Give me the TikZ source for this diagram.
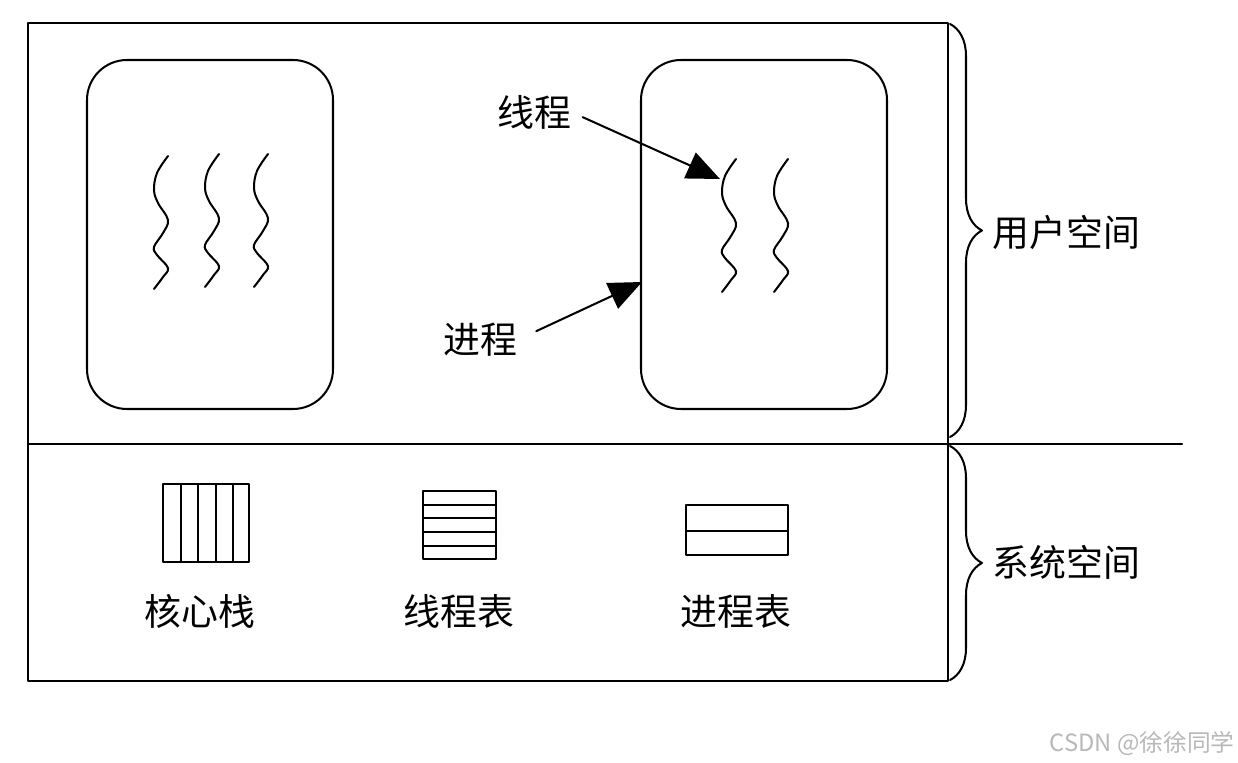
\documentclass[tikz,border=0pt]{standalone}
\usepackage{fontspec}
\newfontfamily\cjk{Noto Sans CJK SC}
\usetikzlibrary{arrows.meta,decorations.pathreplacing}
\begin{document}
\begin{tikzpicture}[x=0.02cm,y=-0.02cm,
  wire/.style={line width=1.15pt,line cap=round,line join=round},
  lab/.style={font=\cjk\fontsize{21pt}{21pt}\selectfont,inner sep=0pt},
  proc/.style={wire,rounded corners=0.8cm},
  arr/.style={wire,-{Triangle[length=0.66cm,width=0.56cm]}},
  brc/.style={wire,decorate,decoration={brace,amplitude=0.64cm}},
  thread/.pic={\draw[wire] plot[smooth,tension=0.6] coordinates
    {(0,0)(-11,17)(-14,34)(-10,47)(0,64)(-5,77)(-14,91)(-11,99)(0,112)(-5,121)(-14,133)};}]
\useasboundingbox (0,0) rectangle (1238,763);
% outer frame
\draw[wire] (28,23) rectangle (948,681);
\draw[wire] (28,444) -- (1182,444);
% process boxes
\draw[proc] (87,60) rectangle (333,409);
\draw[proc] (641,60) rectangle (887,409);
% threads
\pic at (168,156) {thread};
\pic at (219,154) {thread};
\pic at (268,154) {thread};
\pic at (736,159) {thread};
\pic at (788,159) {thread};
% labels and arrows
\node[lab] (t1) at (534,112) {线程};
\node[lab] (t2) at (480,340) {进程};
\coordinate (tip1) at (720,179);
\coordinate (tip2) at (642,282);
\draw[arr,shorten <=0.25cm] (t1.east) -- (tip1);
\draw[arr,shorten <=0.42cm] (t2.east) -- (tip2);
% kernel stack
\draw[wire] (163,484) rectangle (249,562);
\foreach \x in {181,198,216,233} \draw[wire] (\x,484) -- (\x,562);
% thread table
\draw[wire] (423,491) rectangle (496,559);
\foreach \y in {505,518,532,546} \draw[wire] (423,\y) -- (496,\y);
% process table
\draw[wire] (686,505) rectangle (788,555);
\draw[wire] (686,531) -- (788,531);
\node[lab] (k) at (200,611) {核心栈};
\node[lab] (tt) at (459,611) {线程表};
\node[lab] (pt) at (736,611) {进程表};
% braces
\draw[brc] (950,24) -- (950,437);
\draw[brc] (950,446) -- (950,680);
\node[lab,anchor=west] (us) at (992,232) {用户空间};
\node[lab,anchor=west] (ss) at (992,562) {系统空间};
% watermark
\node[font=\cjk\fontsize{13.5pt}{14pt}\selectfont,text=black!28,anchor=east,inner sep=0pt] (wm) at (1235,743) {CSDN @徐徐同学};
\end{tikzpicture}
\end{document}
